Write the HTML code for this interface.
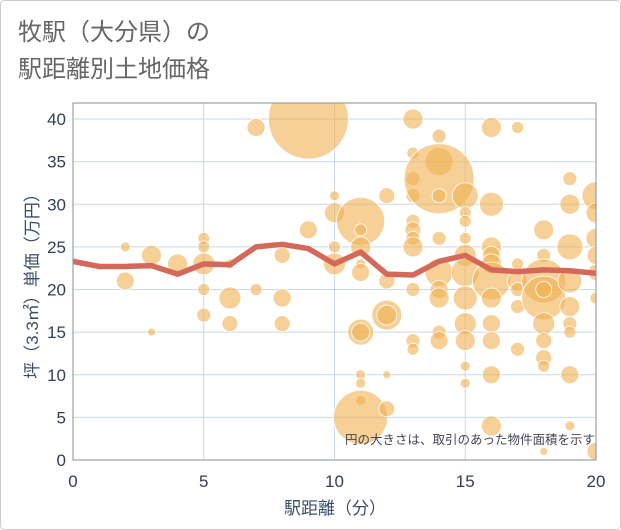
<!DOCTYPE html>
<html><head><meta charset="utf-8"><style>
body{margin:0;background:#fff}
svg{display:block;font-family:"Liberation Sans","Noto Sans CJK JP",sans-serif}
</style></head><body>
<svg id="c" width="621" height="530">
<rect x="0.5" y="0.5" width="620" height="529" rx="4" fill="#fff" stroke="#ccc"/>
<text x="18" y="40" font-size="24" fill="#666">牧駅（大分県）の</text>
<text x="18" y="77" font-size="24" fill="#666">駅距離別土地価格</text>
<g id="grid"></g><g id="bubbles"></g><g id="line"></g><g id="axes"></g>
<text x="595" y="444" font-size="12.5" fill="#445" text-anchor="end">円の大きさは、取引のあった物件面積を示す</text>
<text x="335" y="514" font-size="17" fill="#3a4f6a" text-anchor="middle">駅距離（分）</text>
<text transform="translate(38,282) rotate(-90)" font-size="17" fill="#3a4f6a" text-anchor="middle">坪（3.3㎡）単価（万円）</text>
</svg>
<script>
const xTicks=[0,5,10,15,20];
const yTicks=[0,5,10,15,20,25,30,35,40];
const lineX=[0,1,2,3,4,5,6,7,8,9,10,11,12,13,14,15,16,17,18,19,20];
const lineY=[23.3,22.7,22.7,22.8,21.8,23.0,22.9,25.0,25.3,24.8,23.0,24.4,21.8,21.7,23.3,24.0,22.3,22.1,22.3,22.2,21.9];
const bx=[2,2,3,3,4,5,5,5,5,5,6,6,6,7,7,8,8,8,9,9,10,10,10,10,11,11,11,11,11,11,11,11,11,11,11,12,12,12,12,12,12,13,13,13,13,13,13,13,13,13,13,13,14,14,14,14,14,14,14,14,14,14,15,15,15,15,15,15,15,15,15,15,15,16,16,16,16,16,16,16,16,16,16,16,17,17,17,17,17,17,18,18,18,18,18,18,18,18,18,18,19,19,19,19,19,19,19,19,19,20,20,20,20,20,20,20];
const by=[25,21,24,15,23,26,25,23,20,17,23,19,16,39,20,24,19,16,40,27,31,29,23,25,28,25,27,23,22,15,15,10,9,7,5,31,21,17,17,10,6,40,36,33,31,28,27,26,25,20,14,13,38,35,33,31,26,22,20,19,15,14,31,29,28,26,24,22,19,16,14,11,9,39,30,25,24,23,21,19,16,14,10,4,39,23,21,18,13,20,27,24,21,19,16,14,12,11,1,20,33,30,25,21,18,16,15,10,4,31,29,26,24,22,19,1];
const bs=[5,9,10,4,10,6,6,11,6,7,5,11,8,9,6,8,9,8,40,9,5,10,11,6,24,10,6,5,9,13,9,5,5,5,27,8,8,15,10,4,8,10,6,7,7,7,8,7,10,7,7,6,7,14,35,7,7,14,9,10,7,9,13,6,6,6,11,14,12,11,10,5,5,10,12,10,9,10,19,10,9,9,9,10,6,6,10,7,7,7,10,7,22,22,11,8,8,6,4,8,7,10,13,12,10,7,6,9,5,14,10,10,9,8,6,9];
const NS='http://www.w3.org/2000/svg';
const L=73,R=596,T=103,B=460;
const sx=v=>L+v*(R-L)/20, sy=v=>B-v*(B-119)/40;
function mk(t,a,p){const e=document.createElementNS(NS,t);for(const k in a)e.setAttribute(k,a[k]);p.appendChild(e);return e;}
const grid=document.getElementById('grid'),axes=document.getElementById('axes');
xTicks.forEach(v=>{const g=mk('line',{x1:sx(v),x2:sx(v),y1:T,y2:B,stroke:'#c9d7e6'},grid);


const t=mk('text',{x:sx(v),y:487,'font-size':17,fill:'#2e3f5a','text-anchor':'middle'},axes);t.textContent=v;

});
yTicks.forEach(v=>{const g=mk('line',{x1:L,x2:R,y1:sy(v),y2:sy(v),stroke:'#c9d7e6'},grid);


const t=mk('text',{x:66,y:sy(v)+6,'font-size':17,fill:'#2e3f5a','text-anchor':'end'},axes);t.textContent=v;

});
const fr=mk('rect',{x:L,y:T,width:R-L,height:B-T,fill:'none',stroke:'#8a8f96'},axes);


const bg=document.getElementById('bubbles');
const clip=mk('clipPath',{id:'pc'},bg);mk('rect',{x:L,y:T,width:R-L,height:B-T},clip);
bg.setAttribute('clip-path','url(#pc)');
bx.forEach((x,i)=>{const c=mk('circle',{cx:sx(x),cy:sy(by[i]),r:bs[i],fill:'rgba(240,176,80,0.6)',stroke:'#fff','stroke-width':0.8},bg);

});
const p=mk('polyline',{points:lineX.map((x,i)=>sx(x)+','+sy(lineY[i])).join(' '),fill:'none',stroke:'#d4695a','stroke-width':5.5,'stroke-linejoin':'round'},document.getElementById('line'));


</script>
</body></html>
